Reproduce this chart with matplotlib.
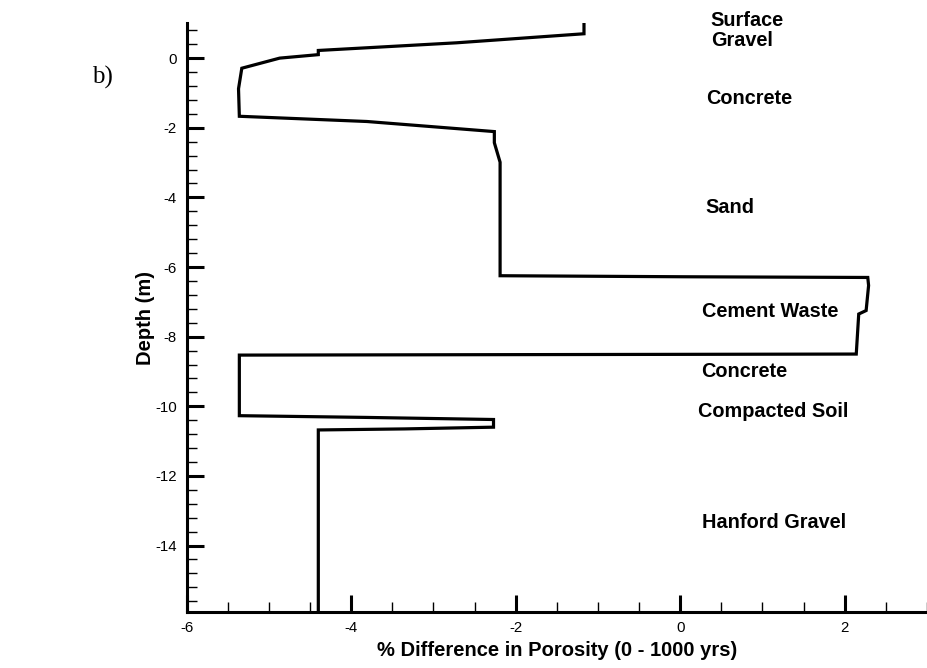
import matplotlib
matplotlib.use('Agg')
import matplotlib.pyplot as plt
from matplotlib.ticker import MultipleLocator

# porosity change profile vs depth
porosity_diff = [-1.17, -1.17, -2.72, -4.40, -4.40, -4.87, -5.33, -5.37, -5.36,
                 -3.81, -2.26, -2.26, -2.19, -2.19, 0.05, 2.28, 2.29, 2.26, 2.17,
                 2.14, -5.36, -5.36, -3.81, -2.27, -2.27, -3.35, -4.40, -4.40]
depth = [1.0, 0.70, 0.44, 0.22, 0.10, 0.0, -0.29, -0.88, -1.67,
         -1.82, -2.11, -2.43, -2.99, -6.25, -6.28, -6.30, -6.53, -7.25, -7.35,
         -8.50, -8.53, -10.27, -10.32, -10.38, -10.60, -10.65, -10.68, -15.9]

layer_names = ['Surface\nGravel', 'Concrete', 'Sand', 'Cement Waste', 'Concrete',
               'Compacted Soil', 'Hanford Gravel']
layer_x = [0.37, 0.32, 0.30, 0.26, 0.25, 0.22, 0.27]
layer_y = [0.79, -1.15, -4.28, -7.27, -9.0, -10.15, -13.35]

plt.rcParams['font.family'] = ['Liberation Sans', 'DejaVu Sans']
plt.rcParams['axes.unicode_minus'] = False

fig = plt.figure(figsize=(9.27, 6.68), dpi=100)
ax = fig.add_axes([0.2014, 0.0843, 0.7986, 0.8808])

ax.plot(porosity_diff, depth, color='black', lw=2.3, solid_joinstyle='miter')

for name, x, y in zip(layer_names, layer_x, layer_y):
    ax.text(x, y, name, fontsize=14.3, fontweight='bold', va='center', ha='left',
            linespacing=1.05, clip_on=False)

ax.set_xlim(-6, 3)
ax.set_ylim(-15.9, 1.0)
ax.xaxis.set_major_locator(MultipleLocator(2))
ax.xaxis.set_minor_locator(MultipleLocator(0.5))
ax.yaxis.set_major_locator(MultipleLocator(2))
ax.yaxis.set_minor_locator(MultipleLocator(0.4))

ax.spines['top'].set_visible(False)
ax.spines['right'].set_visible(False)
ax.spines['left'].set_linewidth(2.2)
ax.spines['bottom'].set_linewidth(2.2)

ax.tick_params(which='major', direction='in', length=12, width=2.2, labelsize=10.8, pad=7)
ax.tick_params(which='minor', direction='in', length=7, width=1.0)

ax.set_xlabel('% Difference in Porosity (0 - 1000 yrs)', fontsize=14.5, fontweight='bold', labelpad=4)
ax.set_ylabel('Depth (m)', fontsize=14.5, fontweight='bold', labelpad=0)

fig.text(0.099, 0.875, 'b)', fontsize=18, family='Liberation Serif')

fig.savefig('out.png', dpi=100)
